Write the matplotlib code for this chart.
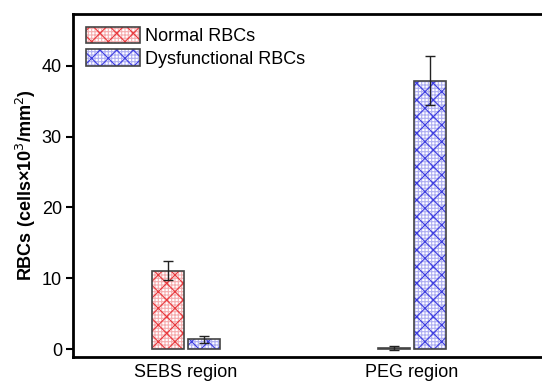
import matplotlib
matplotlib.use('Agg')
import matplotlib.pyplot as plt
import numpy as np
from matplotlib.legend_handler import HandlerTuple

plt.rcParams['font.family'] = ['Liberation Sans', 'DejaVu Sans']
plt.rcParams['hatch.linewidth'] = 0.8

regions = ['SEBS region', 'PEG region']
normal = [11.1, 0.2]
normal_err = [1.3, 0.25]
dysfunctional = [1.4, 37.9]
dysfunctional_err = [0.5, 3.5]

red = '#e8363a'
blue = '#3a3ae0'

fig = plt.figure(figsize=(5.42, 3.81), dpi=100)
# axes runs past the right edge, as in the original crop
ax = fig.add_axes([73 / 542, 24 / 381, 520 / 542, 343 / 381])

x = np.arange(len(regions))
w = 0.145
off = 0.08

h1 = ax.bar(x - off, normal, w, color='white', edgecolor=red, hatch='xx', linewidth=0)
h1b = ax.bar(x - off, normal, w, color='none', edgecolor=red, hatch='+++++', linewidth=0, alpha=0.4)
o1 = ax.bar(x - off, normal, w, fill=False, edgecolor='#444444', linewidth=1.2,
            yerr=normal_err, error_kw=dict(ecolor='#222222', elinewidth=1, capsize=3.5, capthick=1))
h2 = ax.bar(x + off, dysfunctional, w, color='white', edgecolor=blue, hatch='xx', linewidth=0)
h2b = ax.bar(x + off, dysfunctional, w, color='none', edgecolor=blue, hatch='+++++', linewidth=0, alpha=0.4)
o2 = ax.bar(x + off, dysfunctional, w, fill=False, edgecolor='#444444', linewidth=1.2,
            yerr=dysfunctional_err, error_kw=dict(ecolor='#222222', elinewidth=1, capsize=3.5, capthick=1))

ax.set_xlim(-0.5, -0.5 + 520 / 226)
ax.set_ylim(-1.1, 47.3)
ax.set_yticks([0, 10, 20, 30, 40])
ax.set_xticks(x)
ax.set_xticklabels(regions, fontsize=13)
ax.tick_params(axis='x', length=0, pad=5)
ax.tick_params(axis='y', direction='out', length=5, width=1.5, labelsize=13, pad=3)
for s in ax.spines.values():
    s.set_linewidth(2)

ax.set_ylabel('RBCs (cells×10$^{3}$/mm$^{2}$)', fontsize=13, fontweight='bold', labelpad=3)

ax.legend([(h1[0], h1b[0], o1[0]), (h2[0], h2b[0], o2[0])], ['Normal RBCs', 'Dysfunctional RBCs'],
          handler_map={tuple: HandlerTuple(ndivide=1)}, loc='upper left', frameon=False,
          fontsize=13, handlelength=3.0, handleheight=1.0, handletextpad=0.3, labelspacing=0.25,
          borderaxespad=0.3, borderpad=0.4)

fig.savefig('out.png', dpi=100)
